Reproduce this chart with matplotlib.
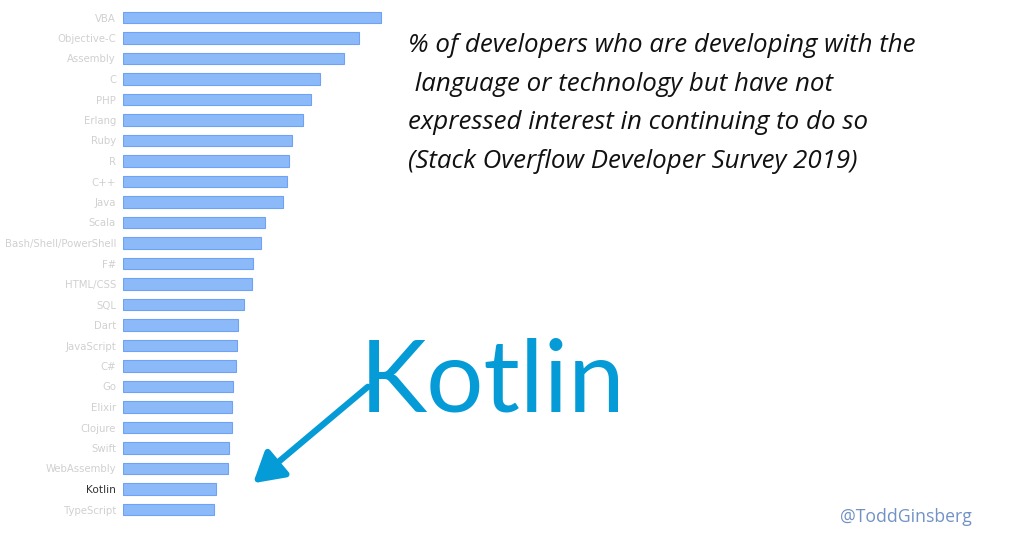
import matplotlib
matplotlib.use("Agg")
import matplotlib.pyplot as plt

languages = [
    "VBA", "Objective-C", "Assembly", "C", "PHP", "Erlang", "Ruby", "R", "C++",
    "Java", "Scala", "Bash/Shell/PowerShell", "F#", "HTML/CSS", "SQL", "Dart",
    "JavaScript", "C#", "Go", "Elixir", "Clojure", "Swift", "WebAssembly",
    "Kotlin", "TypeScript",
]
dreaded = [
    75.2, 68.7, 64.4, 57.5, 54.7, 52.6, 49.3, 48.3, 47.9,
    46.6, 41.3, 40.1, 37.8, 37.6, 35.4, 33.4,
    33.2, 32.9, 32.1, 31.8, 31.7, 30.9, 30.5,
    27.1, 26.6,
]
highlight = "Kotlin"

caption = [
    "% of developers who are developing with the",
    " language or technology but have not",
    "expressed interest in continuing to do so",
    "(Stack Overflow Developer Survey 2019)",
]

W, H = 1013, 545
fig = plt.figure(figsize=(W / 100, H / 100), dpi=100)

# bar panel, placed in pixel terms
x0, top, slot = 123, 7.25, 20.5
n = len(languages)
ax = fig.add_axes([x0 / W, 1 - (top + slot * n) / H, 80 * 3.43 / W, slot * n / H])
ypos = list(range(n))
ax.barh(ypos, dreaded, height=0.55, color="#8cbaf9", edgecolor="#6ea2f2", linewidth=0.8)
ax.set_xlim(0, 80)
ax.set_ylim(n - 0.5, -0.5)
ax.set_yticks(ypos)
ax.set_yticklabels(languages, fontsize=7.3)
for lab in ax.get_yticklabels():
    if lab.get_text() == highlight:
        lab.set_color("#333333")
        lab.set_fontsize(7.6)
    else:
        lab.set_color("#d0d0d0")
ax.tick_params(axis="y", length=0, pad=5)
ax.set_xticks([])
for s in ax.spines.values():
    s.set_visible(False)

# caption
for i, line in enumerate(caption):
    fig.text(408 / W, 1 - (52 + 38.7 * i) / H, line, fontsize=18.6, style="italic",
             family="Open Sans", va="baseline", ha="left", color="#111111")

# big "Kotlin" callout and arrow
blue = "#049bd6"
fig.text(360 / W, 1 - 412 / H, "Kotlin", fontsize=73, family="Lato", color=blue,
         va="baseline", ha="left")
fig.add_artist(matplotlib.patches.FancyArrowPatch(
    (370 / W, 1 - 385 / H), (251 / W, 1 - 485 / H), transform=fig.transFigure,
    arrowstyle="-|>,head_length=12,head_width=7", mutation_scale=1.5,
    color=blue, linewidth=4.5))

fig.text(840 / W, 1 - 517 / H, "@ToddGinsberg", fontsize=12.7, family="Open Sans",
         color="#7292c6", va="center", ha="left")

fig.savefig("out.png", dpi=100)
